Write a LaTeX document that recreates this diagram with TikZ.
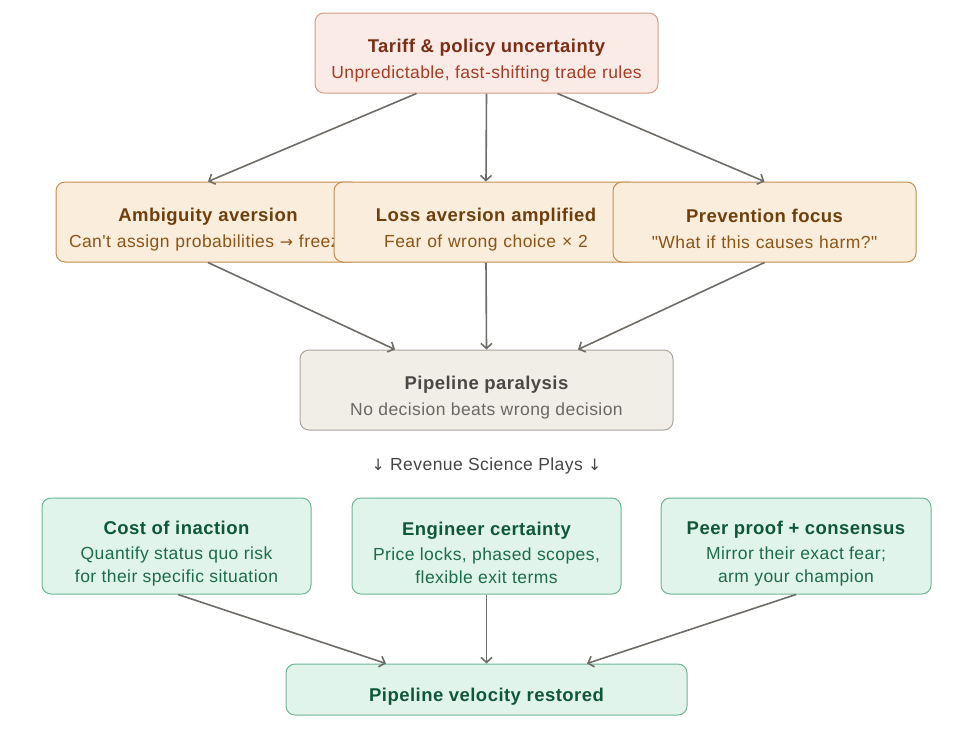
\documentclass[tikz,border=0pt]{standalone}
\usepackage{fontspec}
\setmainfont[LetterSpace=2.5, Ligatures=TeXOff]{Liberation Sans}
\newfontfamily\arrowfont[Scale=0.9]{DejaVu Sans}
\usepackage{tikz}
\usetikzlibrary{arrows.meta,positioning,calc}

\definecolor{tariffFill}{HTML}{FBEBE6}
\definecolor{tariffLine}{HTML}{D49A88}
\definecolor{tariffHead}{HTML}{7B2D16}
\definecolor{tariffText}{HTML}{A63C24}
\definecolor{fearFill}{HTML}{FBEDDB}
\definecolor{fearLine}{HTML}{BF8E52}
\definecolor{fearHead}{HTML}{6E3F0C}
\definecolor{fearText}{HTML}{8B5518}
\definecolor{stallFill}{HTML}{F1EEE8}
\definecolor{stallLine}{HTML}{A9A59E}
\definecolor{stallHead}{HTML}{4A4744}
\definecolor{stallText}{HTML}{6B6762}
\definecolor{playFill}{HTML}{E1F4EC}
\definecolor{playLine}{HTML}{6DB593}
\definecolor{playHead}{HTML}{0F573A}
\definecolor{playText}{HTML}{1C6B4B}
\definecolor{linkGray}{HTML}{6F6B67}
\definecolor{labelGray}{HTML}{444444}

\newcommand{\headfont}{\fontsize{18.5}{23}\selectfont\bfseries\rule{0pt}{28pt}}
\newcommand{\linefont}{\fontsize{17.5}{23}\selectfont}

\begin{document}
\begin{tikzpicture}[x=1pt, y=-1pt, >={Straight Barb[length=5pt,width=11pt]},
  box/.style={draw, rounded corners=9pt, line width=1pt, align=center, inner sep=0pt, font=\linefont},
  tariffbox/.style={box, fill=tariffFill, draw=tariffLine, minimum width=343pt, minimum height=80pt},
  fearbox/.style={box, fill=fearFill, draw=fearLine, minimum width=304pt, minimum height=80pt, text width=278pt},
  stallbox/.style={box, fill=stallFill, draw=stallLine, minimum width=373pt, minimum height=80pt},
  playbox/.style={box, fill=playFill, draw=playLine, minimum width=269pt, minimum height=96pt},
  link/.style={->, draw=linkGray, line width=1.6pt}]
\useasboundingbox (0,0) rectangle (968,740);

% cause
\node (tariff) [tariffbox] at (486.5,53)
  {\textcolor{tariffHead}{\headfont Tariff \& policy uncertainty}\\[3pt]\textcolor{tariffText}{Unpredictable, fast-shifting trade rules}};

% biases
\node (ambig) [fearbox] at (208,222)
  {\textcolor{fearHead}{\headfont Ambiguity aversion}\\[3pt]\textcolor{fearText}{\mbox{Can't assign probabilities {\arrowfont →} freeze}}};
\node (loss) [fearbox] at (486,222)
  {\textcolor{fearHead}{\headfont Loss aversion amplified}\\[3pt]\textcolor{fearText}{Fear of wrong choice × 2}};
\node (prevent) [fearbox, minimum width=303pt] at (764.5,222)
  {\textcolor{fearHead}{\headfont Prevention focus}\\[3pt]\textcolor{fearText}{"What if this causes harm?"}};

% effect
\node (paralysis) [stallbox] at (486.5,390)
  {\textcolor{stallHead}{\headfont Pipeline paralysis}\\[3pt]\textcolor{stallText}{No decision beats wrong decision}};
\node (plays) [font=\linefont, text=labelGray] at (486.5,466) {{\arrowfont ↓} Revenue Science Plays {\arrowfont ↓}};

% plays
\node (cost) [playbox] at (176.5,546)
  {\textcolor{playHead}{\headfont Cost of inaction}\\[2pt]\textcolor{playText}{Quantify status quo risk}\\\textcolor{playText}{for their specific situation}};
\node (engineer) [playbox] at (486.5,546)
  {\textcolor{playHead}{\headfont Engineer certainty}\\[2pt]\textcolor{playText}{Price locks, phased scopes,}\\\textcolor{playText}{flexible exit terms}};
\node (peer) [playbox, minimum width=270pt] at (796,546)
  {\textcolor{playHead}{\headfont Peer proof + consensus}\\[2pt]\textcolor{playText}{Mirror their exact fear;}\\\textcolor{playText}{arm your champion}};

% outcome
\node (velocity) [playbox, minimum width=401pt, minimum height=51pt] at (486.5,689.5)
  {\textcolor{playHead}{\headfont Pipeline velocity restored}};

\draw[link] ([xshift=-70pt]tariff.south) -- (ambig.north);
\draw[link] (tariff.south) -- (loss.north);
\draw[link] ([xshift=71pt]tariff.south) -- (prevent.north);
\draw[link] (ambig.south) -- ([xshift=-91.5pt]paralysis.north);
\draw[link] (loss.south) -- (paralysis.north);
\draw[link] (prevent.south) -- ([xshift=91.5pt]paralysis.north);
\draw[link] ([xshift=1.5pt]cost.south) -- ([xshift=-100.5pt]velocity.north);
\draw[link] (engineer.south) -- (velocity.north);
\draw[link] (peer.south) -- ([xshift=100.5pt]velocity.north);
\end{tikzpicture}
\end{document}
